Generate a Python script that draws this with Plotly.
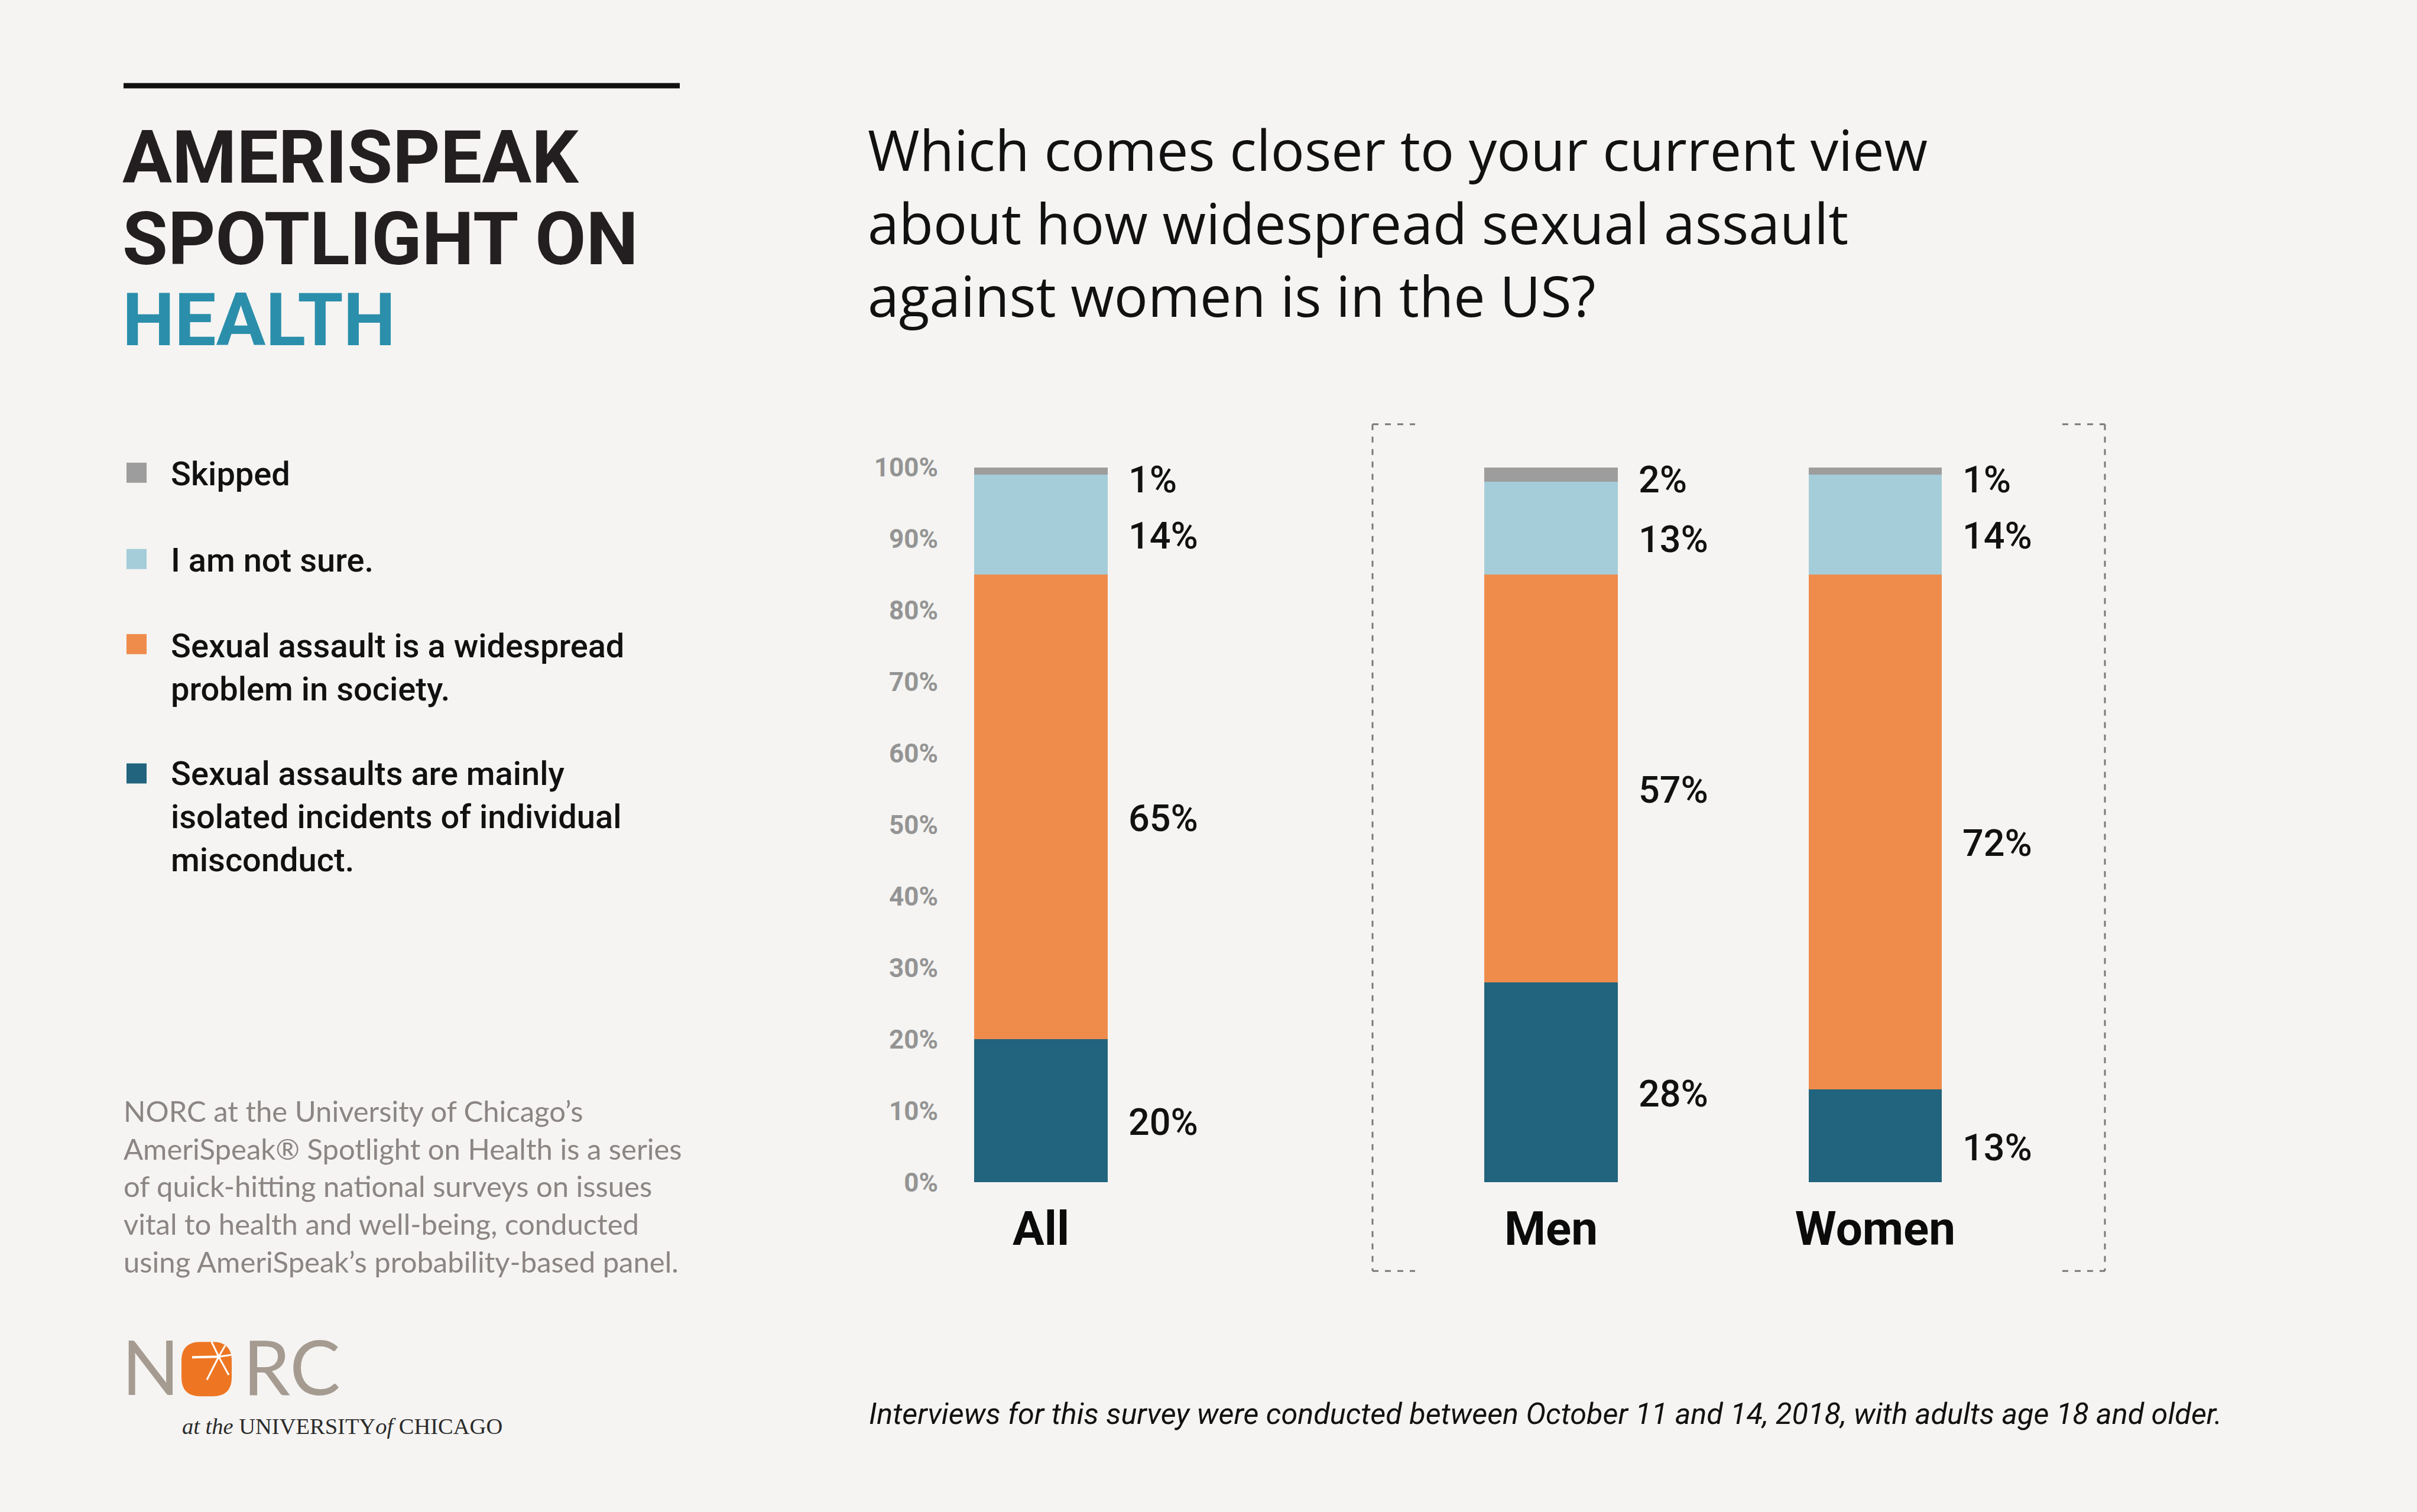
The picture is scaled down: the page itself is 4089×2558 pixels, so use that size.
import plotly.graph_objects as go

W, H = 4089, 2558
BG = "#f5f4f2"

# ---------------- data ----------------
groups_left = ["All"]
groups_right = ["Men", "Women"]
categories = groups_left + groups_right

series_names = [
    "Sexual assaults are mainly isolated incidents of individual misconduct.",
    "Sexual assault is a widespread problem in society.",
    "I am not sure.",
    "Skipped",
]
isolated = [20, 28, 13]
widespread = [65, 57, 72]
not_sure = [14, 13, 14]
skipped = [1, 2, 1]
series_values = [isolated, widespread, not_sure, skipped]
series_colors = ["#22647d", "#ef8c4c", "#a4cdd9", "#9d9d9d"]

y_tick_values = [0, 10, 20, 30, 40, 50, 60, 70, 80, 90, 100]
y_tick_labels = [f"{v}%" for v in y_tick_values]

legend_lines = [
    ["Skipped"],
    ["I am not sure."],
    ["Sexual assault is a widespread", "problem in society."],
    ["Sexual assaults are mainly", "isolated incidents of individual", "misconduct."],
]
legend_colors = ["#9d9d9d", "#a4cdd9", "#ef8c4c", "#22647d"]

title_lines = ["AMERISPEAK", "SPOTLIGHT ON", "HEALTH"]
question_lines = [
    "Which comes closer to your current view",
    "about how widespread sexual assault",
    "against women is in the US?",
]
description_lines = [
    "NORC at the University of Chicago\u2019s",
    "AmeriSpeak\u00ae Spotlight on Health is a series",
    "of quick-hitting national surveys on issues",
    "vital to health and well-being, conducted",
    "using AmeriSpeak\u2019s probability-based panel.",
]
footnote = ("Interviews for this survey were conducted between October 11 and 14, 2018, "
            "with adults age 18 and older.")


def px(x):
    return x / W


def py(y):
    # small vertical correction for the rendering pipeline
    return 1 - ((y - 27) / 0.98) / H


# ---------------- layout geometry ----------------
Y0, Y100 = 2002, 792          # pixel rows of 0% and 100%
UNIT = 548.5                  # px per category step
BAR_W = 0.412
c_all = 1761
left_edge = 1588
men_c, women_c = 2624, 3172.5
mid_right = (men_c + women_c) / 2

fig = go.Figure()

for vals, name, col in zip(series_values, series_names, series_colors):
    fig.add_trace(go.Bar(x=groups_left, y=vals[:1], name=name, marker=dict(color=col, line=dict(width=0)),
                         width=BAR_W, xaxis="x", yaxis="y", showlegend=False, hoverinfo="skip"))
    fig.add_trace(go.Bar(x=groups_right, y=vals[1:], name=name, marker=dict(color=col, line=dict(width=0)),
                         width=BAR_W, xaxis="x2", yaxis="y2", showlegend=False, hoverinfo="skip"))

ydom = [py(Y0), py(Y100)]
xtick_font = dict(family="Roboto", size=80, color="#0b0b0b", weight=700)

fig.update_layout(
    width=W, height=H,
    margin=dict(l=0, r=0, t=0, b=0),
    paper_bgcolor=BG, plot_bgcolor="rgba(0,0,0,0)",
    barmode="stack",
    xaxis=dict(domain=[px(left_edge), px(c_all + UNIT / 2)],
               range=[-(c_all - left_edge) / UNIT, 0.5], anchor="y",
               showgrid=False, zeroline=False, showline=False,
               ticks="outside", ticklen=9, tickcolor="rgba(0,0,0,0)", tickfont=xtick_font),
    yaxis=dict(domain=ydom, range=[0, 100], anchor="x",
               tickmode="array", tickvals=y_tick_values, ticktext=y_tick_labels,
               showgrid=False, zeroline=False, showline=False, ticks="",
               tickfont=dict(family="Roboto", size=44, color="#949494", weight=700)),
    xaxis2=dict(domain=[px(mid_right - UNIT), px(mid_right + UNIT)],
                range=[-0.5, 1.5], anchor="y2",
                showgrid=False, zeroline=False, showline=False,
                ticks="outside", ticklen=9, tickcolor="rgba(0,0,0,0)", tickfont=xtick_font),
    yaxis2=dict(domain=ydom, range=[0, 100], anchor="x2",
                showgrid=False, zeroline=False, showline=False, showticklabels=False),
)

annotations = []
shapes = []


def text(t, x, y, size, color, family, weight=400, xanchor="left", style="normal", **kw):
    annotations.append(dict(text=t, x=px(x), y=py(y), xref="paper", yref="paper",
                            xanchor=xanchor, yanchor="middle", showarrow=False, align="left",
                            font=dict(size=size, color=color, family=family, weight=weight, style=style),
                            **kw))


# value labels next to bars
n_series = len(series_values)
for i, cat in enumerate(categories):
    base = 0
    ax = "x" if cat in groups_left else "x2"
    ay = "y" if cat in groups_left else "y2"
    for k, vals in enumerate(series_values):
        v = vals[i]
        if k == n_series - 1:
            ly = base + v - 1.7
        else:
            ly = base + v / 2 - 1.6
        annotations.append(dict(text=f"{v}%", x=cat, y=ly, xref=ax, yref=ay,
                                xanchor="left", yanchor="middle", xshift=BAR_W * UNIT / 2 + 33,
                                showarrow=False,
                                font=dict(family="Roboto", size=63, color="#111111", weight=500)))
        base += v

# top rule
shapes.append(dict(type="line", xref="paper", yref="paper", x0=px(209), x1=px(1150), y0=py(146), y1=py(146),
                   line=dict(color="#111111", width=9)))

# title
title_cols = ["#231f20", "#231f20", "#2b8fab"]
for t, yy, c in zip(title_lines, [268, 406, 543], title_cols):
    text(t, 205, yy, 125, c, "Roboto", 700)

# question (one block, centred on the middle line)
text("<br>".join(question_lines), 1466, 377, 95, "#111111", "Open Sans", 400)

# legend
leg_sq = [801, 947, 1091, 1310]
leg_mid = [803, 949, 1131, 1383]
for lines, col, sy, ty in zip(legend_lines, legend_colors, leg_sq, leg_mid):
    shapes.append(dict(type="rect", xref="paper", yref="paper", x0=px(214), x1=px(248),
                       y0=py(sy - 17), y1=py(sy + 17), fillcolor=col, line=dict(width=0)))
    text("<br>".join(lines), 287, ty, 56, "#111111", "Roboto", 500)

# description
text("<br>".join(description_lines), 207, 2008, 49, "#8b8584", "Lato", 400)

# footnote
text(footnote, 1468, 2393, 50.4, "#111111", "Roboto", 400, style="italic")

# dashed bracket around Men / Women
dash_style = dict(color="#7a7a7a", width=3, dash="10px,11px")
xl, xr, yt, yb = 2322, 3561, 719, 2152
for x0, x1, y0, y1 in [(xl, xl, yt, yb), (xr, xr, yt, yb),
                       (xl, xl + 72, yt, yt), (xl, xl + 72, yb, yb),
                       (xr - 72, xr, yt, yt), (xr - 72, xr, yb, yb)]:
    shapes.append(dict(type="line", xref="paper", yref="paper", x0=px(x0), x1=px(x1),
                       y0=py(y0), y1=py(y1), line=dash_style))

# NORC logo
logo_gray = "#a59b91"
text("N", 204, 2312, 128, logo_gray, "Lato", 400)
text("RC", 409, 2312, 128, logo_gray, "Lato", 400)
ox0, ox1, oy0, oy1, r = 307, 392, 2272, 2364, 32
path = (f"M {px(ox0 + r)},{py(oy0)} L {px(ox1 - r)},{py(oy0)} "
        f"Q {px(ox1)},{py(oy0)} {px(ox1)},{py(oy0 + r)} L {px(ox1)},{py(oy1 - r)} "
        f"Q {px(ox1)},{py(oy1)} {px(ox1 - r)},{py(oy1)} L {px(ox0 + r)},{py(oy1)} "
        f"Q {px(ox0)},{py(oy1)} {px(ox0)},{py(oy1 - r)} L {px(ox0)},{py(oy0 + r)} "
        f"Q {px(ox0)},{py(oy0)} {px(ox0 + r)},{py(oy0)} Z")
shapes.append(dict(type="path", xref="paper", yref="paper", path=path,
                   fillcolor="#ee7623", line=dict(width=0)))
sc = (370, 2297)
for ex, ey, wdt in [(325, 2298, 4), (350, 2336, 3), (358, 2272, 3), (381, 2278, 3), (391, 2294, 3), (387, 2328, 3)]:
    shapes.append(dict(type="line", xref="paper", yref="paper", x0=px(sc[0]), y0=py(sc[1]),
                       x1=px(ex), y1=py(ey), line=dict(color="white", width=wdt)))
text("<i>at the</i> UNIVERSITY<i>of</i> CHICAGO", 306, 2415, 38.5, "#2b2b2b", "Liberation Serif", 400)

fig.update_layout(annotations=annotations, shapes=shapes)
fig.write_html("out.html")
